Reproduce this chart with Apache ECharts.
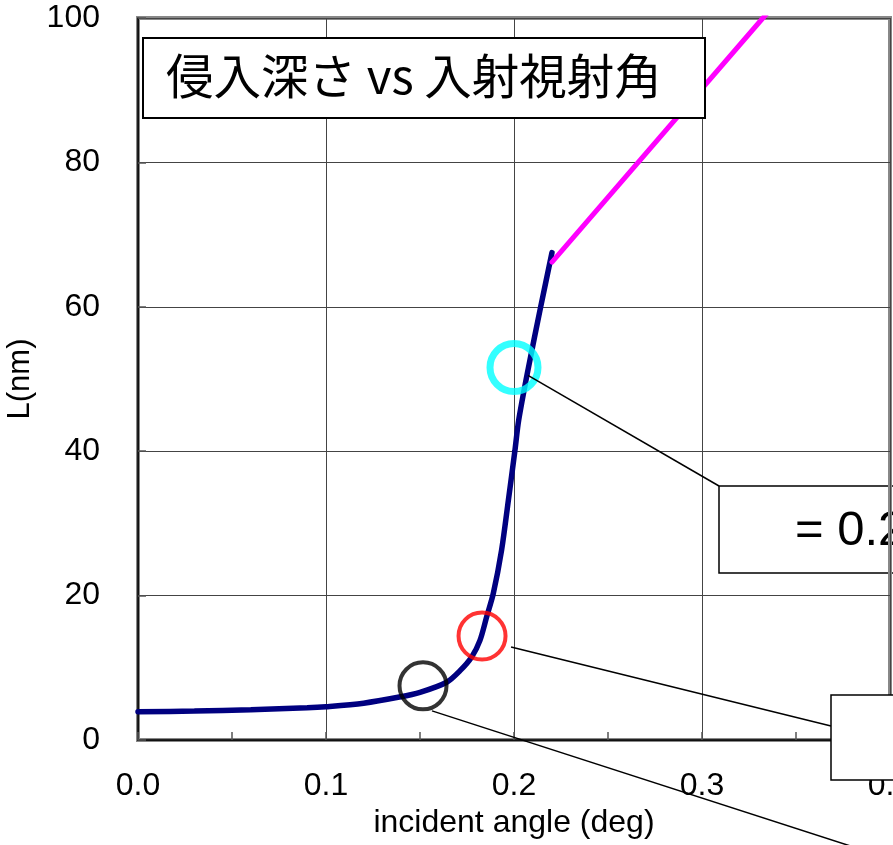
<!DOCTYPE html>
<html>
<head>
<meta charset="utf-8">
<script src="https://cdn.jsdelivr.net/npm/echarts@6/dist/echarts.min.js"></script>
<style>
html,body{margin:0;padding:0;background:#fff;}
#chart{width:893px;height:845px;}
</style>
</head>
<body>
<div id="chart"></div>
<script>
// ---- data ----
var titleText = '侵入深さ vs 入射視射角';
var xAxisTitle = 'incident angle (deg)';
var yAxisTitle = 'L(nm)';
var xTicks = [0, 0.1, 0.2, 0.3, 0.4];
var yTicks = [0, 20, 40, 60, 80, 100];
var depthCurve = [
  [0, 3.9], [0.03, 4.0], [0.06, 4.2], [0.09, 4.45], [0.1, 4.6], [0.12, 5.1],
  [0.139, 5.95], [0.15, 6.6], [0.1642, 8.0], [0.1713, 9.6], [0.1775, 11.5],
  [0.1819, 13.8], [0.1855, 17.1], [0.189, 20.3], [0.1934, 26.3], [0.197, 33.2],
  [0.2005, 40.1], [0.2025, 44.3], [0.2077, 51.6], [0.2142, 60.0], [0.2202, 67.5]
];
var depthLinear = [[0.2202, 66.2], [0.3324, 100], [0.34, 102.3]];
var markBlack = [[0.1516, 7.5]];
var markRed = [[0.183, 14.4]];
var markCyan = [[0.2, 51.6]];
var box1Text = '= 0.2';

var chart = echarts.init(document.getElementById('chart'), null, {renderer: 'canvas'});
var FONT = '"Liberation Sans", Arial, sans-serif';

var option = {
  animation: false,
  backgroundColor: '#fff',
  grid: {
    left: 138, top: 18, right: 3, bottom: 105,
    outerBoundsMode: 'none', containLabel: false,
    show: true, borderColor: '#888', borderWidth: 4, backgroundColor: 'transparent'
  },
  xAxis: {
    type: 'value', min: xTicks[0], max: xTicks[xTicks.length - 1], interval: 0.1,
    name: xAxisTitle, nameLocation: 'middle', nameGap: 66,
    nameTextStyle: {fontFamily: FONT, fontSize: 32, color: '#000'},
    axisLine: {show: true, lineStyle: {color: '#000', width: 1.5}},
    axisTick: {show: true, inside: true, length: 8, lineStyle: {color: '#555', width: 1.5}},
    minorTick: {show: true, splitNumber: 2, length: 8, lineStyle: {color: '#555', width: 1.5}},
    axisLabel: {fontFamily: FONT, fontSize: 32, color: '#000', margin: 30,
      formatter: function (v) { return v.toFixed(1); }},
    splitLine: {show: true, lineStyle: {color: '#444', width: 1}}
  },
  yAxis: {
    type: 'value', min: yTicks[0], max: yTicks[yTicks.length - 1], interval: 20,
    name: yAxisTitle, nameLocation: 'middle', nameGap: 100,
    nameTextStyle: {fontFamily: FONT, fontSize: 31, color: '#000'},
    axisLine: {show: true, lineStyle: {color: '#000', width: 1.5}},
    axisTick: {show: true, inside: true, length: 8, lineStyle: {color: '#555', width: 1.5}},
    axisLabel: {fontFamily: FONT, fontSize: 32, color: '#000', margin: 38},
    splitLine: {show: true, lineStyle: {color: '#444', width: 1}}
  },
  series: [
    {
      type: 'line', data: depthCurve, showSymbol: false, symbol: 'none', smooth: 0.3,
      lineStyle: {color: '#000080', width: 5.5, cap: 'round'}, clip: true, z: 3
    },
    {
      type: 'line', data: depthLinear, showSymbol: false, symbol: 'none',
      lineStyle: {color: '#FF00FF', width: 5, cap: 'round'}, clip: true, z: 3
    },
    {
      type: 'scatter', data: markBlack, symbol: 'circle', symbolSize: 47,
      itemStyle: {color: 'rgba(0,0,0,0)', borderColor: '#000', borderWidth: 4}, z: 4
    },
    {
      type: 'scatter', data: markRed, symbol: 'circle', symbolSize: 47,
      itemStyle: {color: 'rgba(0,0,0,0)', borderColor: '#FF0000', borderWidth: 4}, z: 4
    },
    {
      type: 'scatter', data: markCyan, symbol: 'circle', symbolSize: 48,
      itemStyle: {color: 'rgba(0,0,0,0)', borderColor: '#00FFFF', borderWidth: 7}, z: 4
    }
  ]
};
chart.setOption(option);

var pc = chart.convertToPixel({gridIndex: 0}, markCyan[0]);
var pr = chart.convertToPixel({gridIndex: 0}, markRed[0]);
var pb = chart.convertToPixel({gridIndex: 0}, markBlack[0]);

chart.setOption({
  graphic: [
    // title box
    {type: 'rect', z: 100, shape: {x: 143, y: 38, width: 562, height: 80},
      style: {fill: '#fff', stroke: '#000', lineWidth: 2}},
    {type: 'text', z: 101, left: 166, top: 52,
      style: {text: titleText, font: '47.5px "Noto Sans CJK JP", sans-serif', fill: '#000'}},
    // annotation box 1 (below frame)
    {type: 'rect', z: -1, shape: {x: 719, y: 486, width: 300, height: 87},
      style: {fill: '#fff', stroke: '#000', lineWidth: 1.5}},
    {type: 'text', z: -1, x: 795, y: 531,
      style: {text: box1Text, font: '49px "Liberation Sans", Arial, sans-serif', fill: '#000', textVerticalAlign: 'middle'}},
    // annotation box 2 (above frame)
    {type: 'rect', z: 100, shape: {x: 831, y: 695, width: 300, height: 85},
      style: {fill: '#fff', stroke: '#000', lineWidth: 1.5}},
    // leader lines
    {type: 'line', z: 99, shape: {x1: pc[0] + 14, y1: pc[1] + 8, x2: 719, y2: 486},
      style: {stroke: '#000', lineWidth: 1.5}},
    {type: 'line', z: 99, shape: {x1: pr[0] + 29, y1: pr[1] + 11, x2: 831, y2: 726},
      style: {stroke: '#000', lineWidth: 1.5}},
    {type: 'line', z: 99, shape: {x1: pb[0] + 9, y1: pb[1] + 25, x2: 900, y2: 862},
      style: {stroke: '#000', lineWidth: 1.5}}
  ]
});
</script>
</body>
</html>
